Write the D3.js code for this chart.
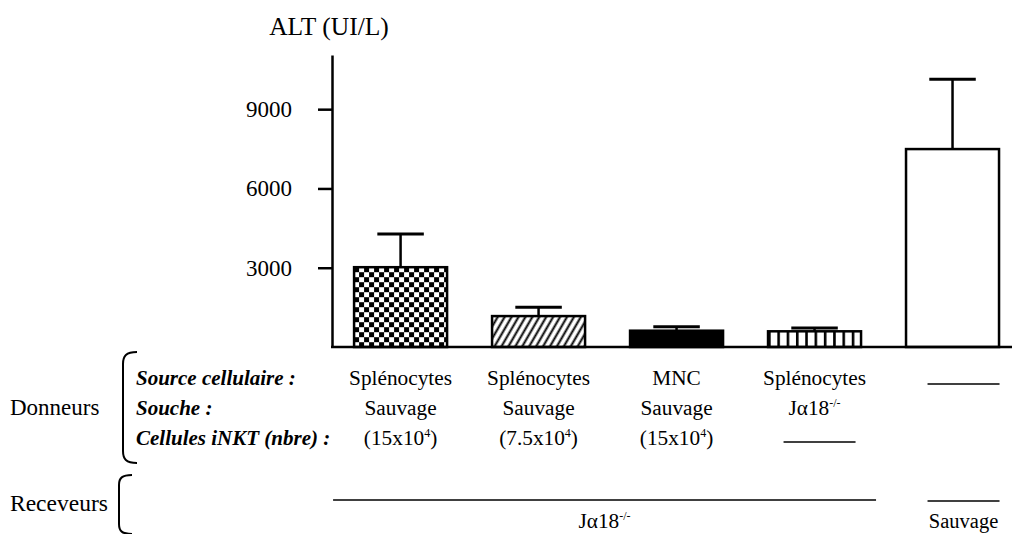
<!DOCTYPE html>
<html><head><meta charset="utf-8">
<script src="https://cdn.jsdelivr.net/npm/d3@7"></script>
<style>
html,body{margin:0;padding:0;background:#fff;}
</style></head>
<body><svg id="chart" width="1012" height="534" font-family="Liberation Serif"></svg>
<script>
// ---- data ----
const groups = ["g1","g2","g3","g4","g5"];
const means = [3020, 1170, 617, 594, 7490];
const sems = [1260, 330, 150, 125, 2640];
const fills = ["checker","diag","solid","vstripe","white"];
const sourceRow = ["Splénocytes","Splénocytes","MNC","Splénocytes",null];
const soucheRow = ["Sauvage","Sauvage","Sauvage","Jα18",null];
const soucheSup = [null,null,null,"-/-",null];
const nktBase = ["(15x10","(7.5x10","(15x10",null,null];
const rowLabels = ["Source cellulaire :","Souche :","Cellules iNKT (nbre) :"];
const yTicks = [3000, 6000, 9000];
const yMax = 11050;

const FONT = "Liberation Serif";
const svg = d3.select("#chart");
const x = d3.scaleBand().domain(groups).range([332, 1012]).paddingInner(0.326).paddingOuter(0.127).align(0.63);
const y = d3.scaleLinear().domain([0, yMax]).range([347, 55]);
const bw = x.bandwidth();
const cx = g => x(g) + bw / 2;
const txt = (sel) => sel.append("text").attr("font-family", FONT).attr("fill", "#000");

// patterns
const defs = svg.append("defs");
const pc = defs.append("pattern").attr("id","checker").attr("patternUnits","userSpaceOnUse").attr("width",10).attr("height",10).attr("x",x("g1")).attr("y",y(means[0]));
pc.append("rect").attr("width",10).attr("height",10).attr("fill","#fff");
pc.append("rect").attr("width",5).attr("height",5).attr("fill","#000");
pc.append("rect").attr("x",5).attr("y",5).attr("width",5).attr("height",5).attr("fill","#000");
const pd = defs.append("pattern").attr("id","diag").attr("patternUnits","userSpaceOnUse").attr("width",6).attr("height",6).attr("patternTransform","rotate(30)");
pd.append("rect").attr("width",6).attr("height",6).attr("fill","#fff");
pd.append("line").attr("x1",1.5).attr("x2",1.5).attr("y1",0).attr("y2",6).attr("stroke","#000").attr("stroke-width",2);
const pv = defs.append("pattern").attr("id","vstripe").attr("patternUnits","userSpaceOnUse").attr("width",9.3).attr("height",10).attr("x",x("g4"));
pv.append("rect").attr("width",9.3).attr("height",10).attr("fill","#fff");
pv.append("rect").attr("x",0).attr("width",2.6).attr("height",10).attr("fill","#000");

const fillOf = f => f === "solid" ? "#000" : f === "white" ? "#fff" : `url(#${f})`;

// error bars
groups.forEach((g, i) => {
  svg.append("line").attr("x1",cx(g)).attr("x2",cx(g)).attr("y1",y(means[i])).attr("y2",y(means[i]+sems[i]))
    .attr("stroke","#000").attr("stroke-width",2.5);
  svg.append("line").attr("x1",cx(g)-bw/4).attr("x2",cx(g)+bw/4).attr("y1",y(means[i]+sems[i])).attr("y2",y(means[i]+sems[i]))
    .attr("stroke","#000").attr("stroke-width",3);
});

// bars
svg.selectAll("rect.bar").data(groups).join("rect").attr("class","bar")
  .attr("x", g => x(g)).attr("width", bw)
  .attr("y", (g,i) => y(means[i])).attr("height", (g,i) => y(0) - y(means[i]))
  .attr("fill", (g,i) => fillOf(fills[i]))
  .attr("stroke","#000").attr("stroke-width",2.5);

// axes
const yAxis = svg.append("g").attr("transform","translate(332,0)")
  .call(d3.axisLeft(y).tickValues(yTicks).tickSize(14).tickSizeOuter(0).tickPadding(26).tickFormat(d3.format("d")));
yAxis.attr("font-family", FONT).attr("font-size", 23);
yAxis.selectAll("path,line").attr("stroke","#000").attr("stroke-width",2.5);
yAxis.selectAll("text").attr("font-size",23).attr("font-family",FONT).attr("fill","#000");
svg.append("line").attr("x1",331).attr("x2",1012).attr("y1",y(0)).attr("y2",y(0)).attr("stroke","#000").attr("stroke-width",2.5);

txt(svg).attr("x",329).attr("y",35).attr("text-anchor","middle").attr("font-size",25.5).text("ALT (UI/L)");

// annotation table
const rowY = [385, 415, 445];
rowLabels.forEach((t, r) => {
  txt(svg).attr("x",136).attr("y",rowY[r]).attr("font-size",21).attr("font-weight","bold").attr("font-style","italic").text(t);
});
txt(svg).attr("x",10).attr("y",415).attr("font-size",23).text("Donneurs");
svg.append("path").attr("d","M137,352 C126,352 123,356 123,364 L123,451 C123,459 126,463 137,463").attr("fill","none").attr("stroke","#000").attr("stroke-width",2);

groups.forEach((g, i) => {
  if (sourceRow[i]) txt(svg).attr("x",cx(g)).attr("y",rowY[0]).attr("text-anchor","middle").attr("font-size",21.3).text(sourceRow[i]);
  else svg.append("line").attr("x1",cx(g)-25).attr("x2",cx(g)+47).attr("y1",rowY[0]-1).attr("y2",rowY[0]-1).attr("stroke","#000").attr("stroke-width",1.5);
  if (soucheRow[i]) {
    const t = txt(svg).attr("x",cx(g)).attr("y",rowY[1]).attr("text-anchor","middle").attr("font-size",21.3);
    t.append("tspan").text(soucheRow[i]);
    if (soucheSup[i]) t.append("tspan").attr("font-size",12).attr("dy",-8).text(soucheSup[i]);
  }
  if (nktBase[i]) {
    const t = txt(svg).attr("x",cx(g)).attr("y",rowY[2]).attr("text-anchor","middle").attr("font-size",21.3);
    t.append("tspan").text(nktBase[i]);
    t.append("tspan").attr("font-size",12).attr("dy",-8).text("4");
    t.append("tspan").attr("dy",8).text(")");
  } else if (i === 3) {
    svg.append("line").attr("x1",cx(g)-31).attr("x2",cx(g)+41).attr("y1",rowY[2]-3).attr("y2",rowY[2]-3).attr("stroke","#000").attr("stroke-width",1.5);
  }
});

// receveurs
txt(svg).attr("x",10).attr("y",511).attr("font-size",23.5).text("Receveurs");
svg.append("path").attr("d","M132,475 C122,475 119,478 119,485 L119,524 C119,531 122,534 132,534").attr("fill","none").attr("stroke","#000").attr("stroke-width",2);
svg.append("line").attr("x1",x("g1")-21).attr("x2",x("g4")+bw+15).attr("y1",500).attr("y2",500).attr("stroke","#000").attr("stroke-width",1.5);
const rt = txt(svg).attr("x",(x("g1")-21 + x("g4")+bw+15)/2).attr("y",528).attr("text-anchor","middle").attr("font-size",21.3);
rt.append("tspan").text("Jα18");
rt.append("tspan").attr("font-size",12).attr("dy",-8).text("-/-");
svg.append("line").attr("x1",cx("g5")-25).attr("x2",cx("g5")+47).attr("y1",501).attr("y2",501).attr("stroke","#000").attr("stroke-width",1.5);
txt(svg).attr("x",cx("g5")+11).attr("y",528).attr("text-anchor","middle").attr("font-size",20.5).text("Sauvage");
</script></body></html>
